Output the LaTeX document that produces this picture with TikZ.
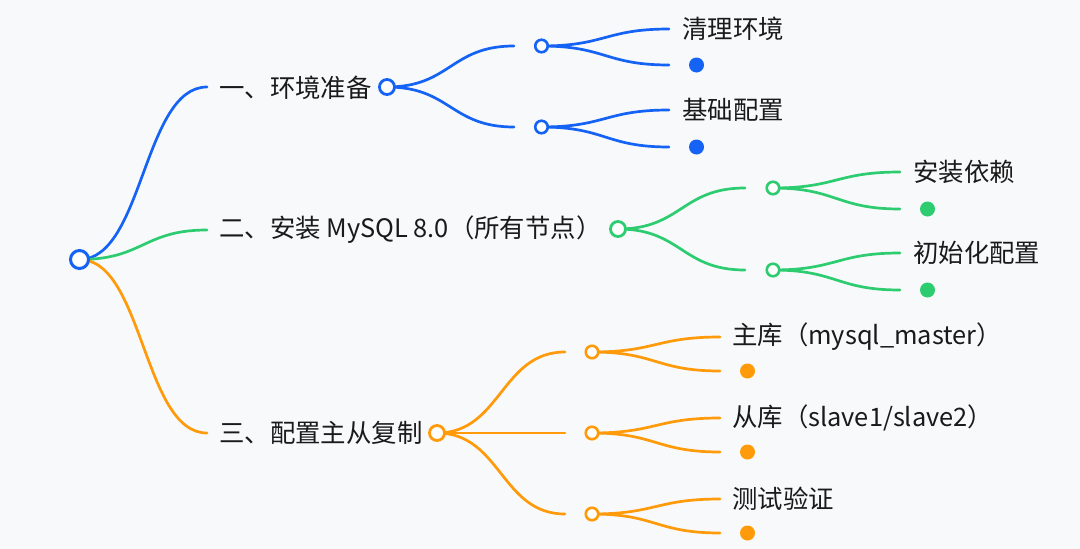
\documentclass[tikz,border=0pt]{standalone}
\usepackage{fontspec}
\setmainfont{Noto Sans CJK SC}
\usetikzlibrary{calc}
\pgfdeclarelayer{bg}\pgfsetlayers{bg,main}
\definecolor{cb}{HTML}{1463F5}
\definecolor{cg}{HTML}{2ECC71}
\definecolor{co}{HTML}{FF9A0A}
\definecolor{bgc}{HTML}{F8F9FB}
\definecolor{txt}{HTML}{1A1A1A}
\begin{document}
\begin{tikzpicture}[x=1pt,y=-1pt,
  lbl/.style={anchor=west, inner sep=0pt, text=txt, font=\fontsize{25.4}{29}\selectfont},
  hubA/.style={circle, draw=#1, fill=white, line width=3pt, inner sep=0pt, minimum size=18pt},
  hubB/.style={circle, draw=#1, fill=white, line width=2.8pt, inner sep=0pt, minimum size=15pt},
  hubC/.style={circle, draw=#1, fill=white, line width=2.6pt, inner sep=0pt, minimum size=12.5pt},
  leaf/.style={circle, fill=#1, inner sep=0pt, minimum size=15pt},
  hc/.style={to path={let \p1=(\tikztostart), \p2=(\tikztotarget) in
     .. controls ({(\x1+\x2)/2},\y1) and ({(\x1+\x2)/2},\y2) .. (\tikztotarget)}},
  edge/.style={draw=#1, line width=2.7pt, line cap=round}]
\useasboundingbox (0,0) rectangle (1080,549);

% root
\node[hubA=cb] (root) at (79.5,259.5) {};

% level 1
\coordinate (e1) at (207,87);
\coordinate (e2) at (207,230);
\coordinate (e3) at (207,433);
\node[lbl] (t1) at (219,88) {一、环境准备};
\node[lbl] (t2) at (219,230) {二、安装 MySQL 8.0（所有节点）};
\node[lbl] (t3) at (219,433) {三、配置主从复制};
\node[hubB=cb] (h1) at (387,87) {};
\node[hubB=cg] (h2) at (618,229) {};
\node[hubB=co] (h3) at (437,433) {};

% blue level 2
\coordinate (b1e) at (514,46);
\coordinate (b2e) at (514,127);
\node[hubC=cb] (b1) at (541.5,46) {};
\node[hubC=cb] (b2) at (541.5,127) {};
\coordinate (b1a) at (669,29);
\coordinate (b1b) at (669,65);
\coordinate (b2a) at (669,110);
\coordinate (b2b) at (669,147);
\node[lbl] (bt1) at (682,29) {清理环境};
\node[lbl] (bt2) at (682,110) {基础配置};
\node[leaf=cb] (bd1) at (696.5,65) {};
\node[leaf=cb] (bd2) at (696.5,147) {};

% green level 2
\coordinate (g1e) at (745,188);
\coordinate (g2e) at (745,270);
\node[hubC=cg] (g1) at (773,188) {};
\node[hubC=cg] (g2) at (773,270) {};
\coordinate (g1a) at (900,172);
\coordinate (g1b) at (900,209);
\coordinate (g2a) at (900,253);
\coordinate (g2b) at (900,290);
\node[lbl] (gt1) at (913,172) {安装依赖};
\node[lbl] (gt2) at (913,253) {初始化配置};
\node[leaf=cg] (gd1) at (927.5,209) {};
\node[leaf=cg] (gd2) at (927.5,290) {};

% orange level 2
\coordinate (o1e) at (565,352);
\coordinate (o2e) at (565,433);
\coordinate (o3e) at (565,514);
\node[hubC=co] (o1) at (592,352) {};
\node[hubC=co] (o2) at (592,433) {};
\node[hubC=co] (o3) at (592,514) {};
\coordinate (o1a) at (720,337);
\coordinate (o1b) at (720,371);
\coordinate (o2a) at (720,418);
\coordinate (o2b) at (720,452);
\coordinate (o3a) at (720,499);
\coordinate (o3b) at (720,533);
\node[lbl] (ot1) at (732,337) {主库（mysql\_master）};
\node[lbl] (ot2) at (732,418) {从库（slave1/slave2）};
\node[lbl] (ot3) at (732,499) {测试验证};
\node[leaf=co] (od1) at (747.5,371) {};
\node[leaf=co] (od2) at (747.5,452) {};
\node[leaf=co] (od3) at (747.5,533) {};

\begin{pgfonlayer}{bg}
\fill[bgc] (0,0) rectangle (1080,549);
\draw[edge=cb] (root.center) to[hc] (e1);
\draw[edge=cg] (root.center) to[hc] (e2);
\draw[edge=co] (root.center) to[hc] (e3);
\draw[edge=cb] (h1.center) to[hc] (b1e);
\draw[edge=cb] (h1.center) to[hc] (b2e);
\draw[edge=cb] (b1.center) to[hc] (b1a);
\draw[edge=cb] (b1.center) to[hc] (b1b);
\draw[edge=cb] (b2.center) to[hc] (b2a);
\draw[edge=cb] (b2.center) to[hc] (b2b);
\draw[edge=cg] (h2.center) to[hc] (g1e);
\draw[edge=cg] (h2.center) to[hc] (g2e);
\draw[edge=cg] (g1.center) to[hc] (g1a);
\draw[edge=cg] (g1.center) to[hc] (g1b);
\draw[edge=cg] (g2.center) to[hc] (g2a);
\draw[edge=cg] (g2.center) to[hc] (g2b);
\draw[edge=co] (h3.center) to[hc] (o1e);
\draw[edge=co] (h3.center) to[hc] (o2e);
\draw[edge=co] (h3.center) to[hc] (o3e);
\draw[edge=co] (o1.center) to[hc] (o1a);
\draw[edge=co] (o1.center) to[hc] (o1b);
\draw[edge=co] (o2.center) to[hc] (o2a);
\draw[edge=co] (o2.center) to[hc] (o2b);
\draw[edge=co] (o3.center) to[hc] (o3a);
\draw[edge=co] (o3.center) to[hc] (o3b);
\end{pgfonlayer}
\end{tikzpicture}
\end{document}
